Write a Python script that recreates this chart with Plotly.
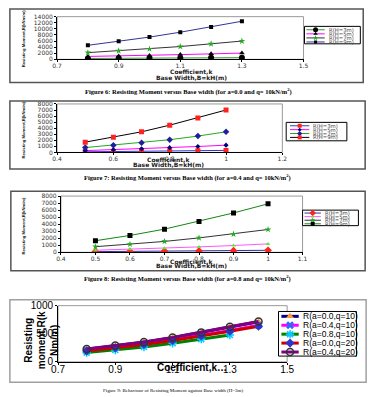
import plotly.graph_objects as go

W, H = 376, 397

# ---------------- data ----------------
k_fig6 = [0.8, 0.9, 1.0, 1.1, 1.2, 1.3]
fig6_H3 = [300, 350, 400, 450, 500, 550]
fig6_H5 = [950, 1100, 1300, 1550, 1800, 2050]
fig6_H7 = [2200, 2800, 3400, 4200, 5100, 6000]
fig6_H9 = [4600, 5900, 7300, 8900, 10600, 12500]

k_fig7 = [0.5, 0.6, 0.7, 0.8, 0.9, 1.0]
fig7_H3 = [100, 130, 170, 220, 280, 340]
fig7_H5 = [300, 450, 600, 780, 980, 1200]
fig7_H7 = [800, 1200, 1600, 2100, 2700, 3400]
fig7_H9 = [1700, 2500, 3400, 4500, 5700, 7000]

k_fig8 = [0.5, 0.6, 0.7, 0.8, 0.9, 1.0]
fig8_H3 = [100, 130, 160, 200, 240, 290]
fig8_H5 = [300, 430, 580, 770, 970, 1200]
fig8_H7 = [800, 1150, 1550, 2050, 2600, 3250]
fig8_H9 = [1650, 2400, 3300, 4400, 5600, 6900]

k_fig9 = [0.8, 0.9, 1.0, 1.1, 1.2, 1.3, 1.4]
k_fig9_a08 = [0.8, 0.9, 1.0, 1.1, 1.2, 1.3]
fig9_a00_q10 = [225, 285, 350, 430, 520, 620, 715]
fig9_a04_q10 = [200, 258, 320, 390, 470, 560, 650]
fig9_a08_q10 = [165, 212, 265, 330, 405, 478]
fig9_a00_q20 = [195, 250, 310, 380, 460, 545, 635]
fig9_a04_q20 = [230, 290, 355, 435, 525, 625, 720]

names_H = ["R(H=3m)", "R(H=5m)", "R(H=7m)", "R(H=9m)"]
names_9 = ["R(a=0.0,q=10)", "R(a=0.4,q=10)", "R(a=0.8,q=10)", "R(a=0.0,q=20)", "R(a=0.4,q=20)"]

captions = [
    "Figure 6: Resisting Moment versus Base width (for a=0.0 and q= 10kN/m<sup>2</sup>)",
    "Figure 7: Resisting Moment versus Base width (for a=0.4 and q= 10kN/m<sup>2</sup>)",
    "Figure 8: Resisting Moment versus Base width (for a=0.8 and q= 10kN/m<sup>2</sup>)",
    "Figure 9: Behaviour of Resisting Moment against Base width (H=3m)",
]

# ---------------- styles ----------------
sty6 = [
    dict(lc="#339933", sym="circle", mc="#000000", ms=6),
    dict(lc="#FF00FF", sym="triangle-up", mc="#000000", ms=5),
    dict(lc="#333333", sym="star", mc="#22AA22", ms=5),
    dict(lc="#333399", sym="square", mc="#000000", ms=4),
]
sty7 = [
    dict(lc="#3333CC", sym="square", mc="#FF2222", ms=5),
    dict(lc="#FF00FF", sym="diamond", mc="#000080", ms=4),
    dict(lc="#22AA22", sym="diamond", mc="#1F1F99", ms=5),
    dict(lc="#000000", sym="square", mc="#FF2222", ms=5),
]
sty8 = [
    dict(lc="#333399", sym="diamond", mc="#FF2222", ms=6),
    dict(lc="#FF55FF", sym="triangle-up", mc="#55EE33", ms=4),
    dict(lc="#333333", sym="star", mc="#22AA22", ms=5),
    dict(lc="#118811", sym="square", mc="#000000", ms=5),
]
sty9 = [
    dict(lc="#000080", sym="triangle-up", mc="#FF9933", ms=7),
    dict(lc="#FF00FF", sym="x", mc="#3366FF", ms=7),
    dict(lc="#008000", sym="asterisk", mc="#00CCFF", ms=7),
    dict(lc="#CC0000", sym="diamond", mc="#3333CC", ms=7),
    dict(lc="#800080", sym="circle-open", mc="#333333", ms=7),
]

def px(x):
    return x / W

def py(y):
    return 1 - y / H

def marker_of(s):
    m = dict(symbol=s["sym"], size=s["ms"], color=s["mc"])
    if s["sym"] in ("asterisk", "circle-open"):
        m["line"] = dict(color=s["mc"], width=1.5)
    return m

fig = go.Figure()

def add_series(xs, ys, s, ax, lw):
    fig.add_trace(go.Scatter(
        x=xs, y=ys, mode="lines+markers",
        line=dict(color=s["lc"], width=lw),
        marker=marker_of(s),
        xaxis=ax[0], yaxis=ax[1], showlegend=False, hoverinfo="skip"))

for ys, s in zip([fig6_H3, fig6_H5, fig6_H7, fig6_H9], sty6):
    add_series(k_fig6, ys, s, ("x", "y"), 1)
for ys, s in zip([fig7_H3, fig7_H5, fig7_H7, fig7_H9], sty7):
    add_series(k_fig7, ys, s, ("x2", "y2"), 1)
for ys, s in zip([fig8_H3, fig8_H5, fig8_H7, fig8_H9], sty8):
    add_series(k_fig8, ys, s, ("x3", "y3"), 1)
for xs, ys, s in zip([k_fig9, k_fig9, k_fig9_a08, k_fig9, k_fig9],
                     [fig9_a00_q10, fig9_a04_q10, fig9_a08_q10, fig9_a00_q20, fig9_a04_q20], sty9):
    add_series(xs, ys, s, ("x4", "y4"), 3)

annotations = []
shapes = []

SMALL = dict(family="DejaVu Sans", size=5.3, color="#444444")

def legend_block(box, rows, line_x, text_x, names, styles, font, lw, border="#000000"):
    x0, x1, y0, y1 = box
    fig.add_trace(go.Scatter(
        x=[x0, x1, x1, x0, x0], y=[y0, y0, y1, y1, y0], mode="lines",
        fill="toself", fillcolor="white", line=dict(color=border, width=1),
        xaxis="x5", yaxis="y5", showlegend=False, hoverinfo="skip"))
    for ry, name, s in zip(rows, names, styles):
        fig.add_trace(go.Scatter(
            x=[line_x[0], line_x[1]], y=[ry, ry], mode="lines",
            line=dict(color=s["lc"], width=lw),
            xaxis="x5", yaxis="y5", showlegend=False, hoverinfo="skip"))
        m = marker_of(s)
        m["size"] = max(3, s["ms"] - (1 if lw == 1 else 0))
        fig.add_trace(go.Scatter(
            x=[(line_x[0] + line_x[1]) / 2], y=[ry], mode="markers", marker=m,
            xaxis="x5", yaxis="y5", showlegend=False, hoverinfo="skip"))
        annotations.append(dict(
            x=px(text_x), y=py(ry), xref="paper", yref="paper", text=name,
            showarrow=False, xanchor="left", yanchor="middle", font=font))

legend_block((309, 367, 21, 39), [24.5, 28.7, 32.9, 37.1], (311, 330), 332,
             names_H, sty6, SMALL, 1)
legend_block((290, 353, 120, 139), [123.5, 127.5, 131.5, 135.5], (294, 314), 316,
             names_H, sty7, SMALL, 1)
legend_block((307, 365, 210.5, 226.5), [213.5, 217.2, 220.9, 224.6], (309, 326), 328,
             names_H, sty8, SMALL, 1)
legend_block((282, 363, 315, 361), [320, 329.2, 338.4, 347.6, 356.8], (285, 303), 305,
             names_9, sty9, dict(family="Liberation Sans", size=8.5, color="#000000"), 3)

# outer borders
for (x0, y0, x1, y1, c) in [(3, 3, 370, 79, "#555555"), (3, 98, 372, 168, "#555555"),
                            (4, 191, 372, 273, "#555555"), (3, 303, 373, 388, "#A0A0A0")]:
    shapes.append(dict(type="rect", xref="paper", yref="paper",
                       x0=px(x0), x1=px(x1), y0=py(y1), y1=py(y0),
                       line=dict(color=c, width=1.5), layer="above"))

# plot-area borders
for xa, ya in [("x", "y"), ("x2", "y2"), ("x3", "y3"), ("x4", "y4")]:
    shapes.append(dict(type="rect", xref=xa + " domain", yref=ya + " domain",
                       x0=0, x1=1, y0=0, y1=1, line=dict(color="#999999", width=1),
                       layer="below"))

# axis titles (figs 6-8)
TITLE_B = dict(family="DejaVu Sans", size=6, color="#222222", weight="bold")
YT = dict(family="Liberation Sans Narrow, Liberation Sans", size=4.2, color="#111111", weight="bold")
for cx, y1, y2, ycx, ycy in [(192, 68, 73.5, 17, 33), (168, 158.5, 163.5, 17, 127),
                             (192, 263, 268, 17, 226)]:
    annotations.append(dict(x=px(cx), y=py(y1), xref="paper", yref="paper",
                            text="Coefficient,k", showarrow=False, font=TITLE_B,
                            xanchor="center", yanchor="middle"))
    annotations.append(dict(x=px(cx), y=py(y2), xref="paper", yref="paper",
                            text="Base Width,B=kH(m)", showarrow=False, font=TITLE_B,
                            xanchor="center", yanchor="middle"))
    annotations.append(dict(x=px(ycx), y=py(ycy), xref="paper", yref="paper",
                            text="Resisting Moment,R(kNm/m)", showarrow=False, font=YT,
                            textangle=-90, xanchor="center", yanchor="middle"))

# fig 9 titles
annotations.append(dict(x=px(36), y=py(345), xref="paper", yref="paper",
                        text="Resisting<br>moment,R(k<br>Nm/m)", showarrow=False,
                        textangle=-90, xanchor="center", yanchor="middle",
                        font=dict(family="Liberation Sans", size=10, color="#000000", weight="bold")))
annotations.append(dict(x=px(192), y=py(373), xref="paper", yref="paper",
                        text="Coefficient,k…", showarrow=False,
                        xanchor="center", yanchor="middle",
                        font=dict(family="Liberation Sans", size=10, color="#000000", weight="bold")))

# captions
for cap, cy, cx, sz, bold in [(captions[0], 88, 188, 6.5, True), (captions[1], 177, 187, 6.5, True),
                              (captions[2], 281, 187, 6.5, True), (captions[3], 396, 172, 5, False)]:
    f = dict(family="Liberation Serif", size=sz, color="#000000")
    if bold:
        f["weight"] = "bold"
    annotations.append(dict(x=px(cx), y=py(cy), xref="paper", yref="paper", text=cap,
                            showarrow=False, xanchor="center", yanchor="middle", font=f))

TICKF = dict(family="DejaVu Sans", size=6, color="#333333")
def ax_common(font, standoff, fmt=None):
    d = dict(showgrid=False, zeroline=False, showline=True, linecolor="#000000",
             linewidth=1, ticks="outside", ticklen=2, tickcolor="#000000",
             tickfont=font, fixedrange=True, exponentformat="none",
             ticklabelstandoff=standoff)
    if fmt:
        d["tickformat"] = fmt
    return d

F9 = dict(family="Liberation Sans", size=10, color="#000000")
fig.update_layout(
    width=W, height=H, margin=dict(l=0, r=0, t=0, b=0),
    paper_bgcolor="white", plot_bgcolor="rgba(0,0,0,0)",
    xaxis=dict(domain=[px(52), px(308)], range=[0.7, 1.5], tick0=0.7, dtick=0.2,
               anchor="y", **ax_common(TICKF, -2)),
    yaxis=dict(domain=[py(55), py(11)], range=[0, 14000], dtick=2000,
               anchor="x", **ax_common(TICKF, 0, "d")),
    xaxis2=dict(domain=[px(52), px(286)], range=[0.4, 1.2], tick0=0.4, dtick=0.2,
                anchor="y2", **ax_common(TICKF, -2)),
    yaxis2=dict(domain=[py(151), py(101)], range=[0, 8000], dtick=1000,
                anchor="x2", **ax_common(TICKF, 0, "d")),
    xaxis3=dict(domain=[px(56), px(307)], range=[0.4, 1.1], tick0=0.4, dtick=0.1,
                anchor="y3", **ax_common(TICKF, -2)),
    yaxis3=dict(domain=[py(254), py(196)], range=[0, 8000], dtick=1000,
                anchor="x3", **ax_common(TICKF, 0, "d")),
    xaxis4=dict(domain=[px(53), px(291)], range=[0.7, 1.5], tick0=0.7, dtick=0.2,
                anchor="y4", **ax_common(F9, -4)),
    yaxis4=dict(domain=[py(367), py(309)], range=[0, 1000], dtick=500,
                anchor="x4", **ax_common(F9, 0, "d")),
    xaxis5=dict(domain=[0, 1], range=[0, W], visible=False, anchor="y5", fixedrange=True),
    yaxis5=dict(domain=[0, 1], range=[H, 0], visible=False, anchor="x5", fixedrange=True),
    annotations=annotations, shapes=shapes,
)

fig.write_html("out.html")
